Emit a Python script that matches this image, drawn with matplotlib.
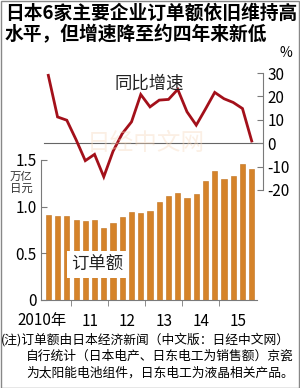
import numpy as np
import matplotlib
matplotlib.use("Agg")
import matplotlib.pyplot as plt
from matplotlib.patches import Rectangle

plt.rcParams["font.family"] = ["Liberation Sans Narrow", "Noto Sans CJK SC", "DejaVu Sans"]
plt.rcParams["axes.unicode_minus"] = False

# ---------- data ----------
# quarterly orders (trillion yen), 2010 Q2 .. 2015 Q4
orders = [0.915, 0.901, 0.894, 0.854, 0.851, 0.858, 0.766, 0.827, 0.890, 0.943,
          0.929, 0.957, 1.050, 1.114, 1.141, 1.088, 1.135, 1.277, 1.383, 1.295,
          1.330, 1.461, 1.401]
# year-on-year growth (%)
growth = [29.0, 11.2, 9.8, 1.5, -7.5, -4.8, -14.4, -3.5, 4.1, 9.1,
          20.8, 15.5, 18.4, 18.7, 23.0, 13.4, 7.7, 14.6, 21.7, 19.0,
          17.4, 14.8, 0.9]
year_labels = ["2010年", "11", "12", "13", "14", "15"]
quarters_per_year = [3, 4, 4, 4, 4, 4]

left_ticks = [0, 0.5, 1.0, 1.5]
left_ticklabels = ["0", "0.5", "1.0", "1.5"]
right_ticks = [30, 20, 10, 0, -10, -20]

BAR_COLOR = "#D5832A"
LINE_COLOR = "#A3101A"
AXIS_GRAY = "#7a7a7a"

# ---------- plot ----------
fig = plt.figure(figsize=(3.0, 3.88), dpi=100)
W, H = 300, 388

ax = fig.add_axes([41 / W, 88 / H, 222 / W, 227 / H])
ax2 = ax.twinx()

x = np.arange(len(orders))
ax.bar(x, orders, width=0.55, color=BAR_COLOR, edgecolor="#C0701A", linewidth=0.4, zorder=2)
ax.set_xlim(-0.79, 23.22)
ax.set_ylim(0, 2.43)

ax2.plot(x, growth, color=LINE_COLOR, lw=2.0, solid_joinstyle="miter", zorder=3)
ax2.axhline(0, xmin=0.014, xmax=1, color="#666666", lw=0.8, zorder=1)
ax2.set_ylim(-67.1, 30)

# left axis
ax.set_yticks(left_ticks)
ax.set_yticklabels(left_ticklabels, fontsize=11)
ax.tick_params(axis="y", direction="in", length=4, color=AXIS_GRAY, pad=3)
ax.spines["left"].set_bounds(0, 1.5)
ax.spines["left"].set_color(AXIS_GRAY)
ax.spines["top"].set_visible(False)
ax.spines["right"].set_visible(False)
ax.spines["bottom"].set_color(AXIS_GRAY)
ax.spines["bottom"].set_bounds(-0.79, 22.6)

# year ticks
ends = np.cumsum(quarters_per_year)
bounds = ends[:-1] - 0.5
centers = ends - np.array(quarters_per_year) / 2 - 0.5
centers = centers.astype(float)
centers[0] -= 1.7  # 2010 label sits left of its bars
ax.set_xticks(centers)
ax.set_xticklabels(year_labels, fontsize=11)
ax.set_xticks(bounds, minor=True)
ax.tick_params(axis="x", which="major", length=0, pad=9)
ax.tick_params(axis="x", which="minor", length=4, direction="out", color=AXIS_GRAY)

# right axis
ax2.set_yticks(right_ticks)
ax2.set_yticklabels([str(t) for t in right_ticks], fontsize=11)
ax2.tick_params(axis="y", direction="in", length=4, color=AXIS_GRAY, pad=3)
for s in ("left", "top", "bottom"):
    ax2.spines[s].set_visible(False)
ax2.spines["right"].set_bounds(-20, 30)
ax2.spines["right"].set_color(AXIS_GRAY)

# ---------- texts ----------
fig.text(5 / W, 1 - 4 / H, "日本6家主要企业订单额依旧维持高\n水平，但增速降至约四年来新低",
         ha="left", va="top", fontsize=13.5, fontweight="bold", linespacing=1.15)
fig.text(286 / W, 1 - 53 / H, "%", ha="center", va="center", fontsize=10)
fig.text(149 / W, 1 - 84 / H, "同比增速", ha="center", va="center", fontsize=12.5, color="#222222")
fig.text(21 / W, 1 - 177 / H, "万亿", ha="center", va="center", fontsize=8.2, color="#333333")
fig.text(21 / W, 1 - 190 / H, "日元", ha="center", va="center", fontsize=8.2, color="#333333")
ax.text(0.255, 0.155, "订单额", transform=ax.transAxes, ha="center", va="center", fontsize=12.5,
        color="#222222", zorder=5,
        bbox=dict(boxstyle="square,pad=0.25", facecolor="white", edgecolor="none"))

# watermark
fig.text(146 / W, 1 - 143 / H, "日经中文网", ha="center", va="center", fontsize=17,
         color="#F6D8BC", alpha=0.4, zorder=0)

notes = ["(注)订单额由日本经济新闻（中文版：日经中文网）",
         "自行统计（日本电产、日东电工为销售额）京瓷",
         "为太阳能电池组件，日东电工为液晶相关产品。"]
fig.text(1 / W, 1 - 340 / H, notes[0], ha="left", va="center", fontsize=9.2)
fig.text(26 / W, 1 - 356.5 / H, notes[1], ha="left", va="center", fontsize=9.2)
fig.text(26 / W, 1 - 373 / H, notes[2], ha="left", va="center", fontsize=9.2)

# frame
fig.patches.append(Rectangle((0.5 / W, 0.5 / H), 1 - 1.5 / W, 1 - 1.5 / H, transform=fig.transFigure,
                             fill=False, edgecolor="#888888", lw=1))

fig.savefig("out.png", dpi=100)
